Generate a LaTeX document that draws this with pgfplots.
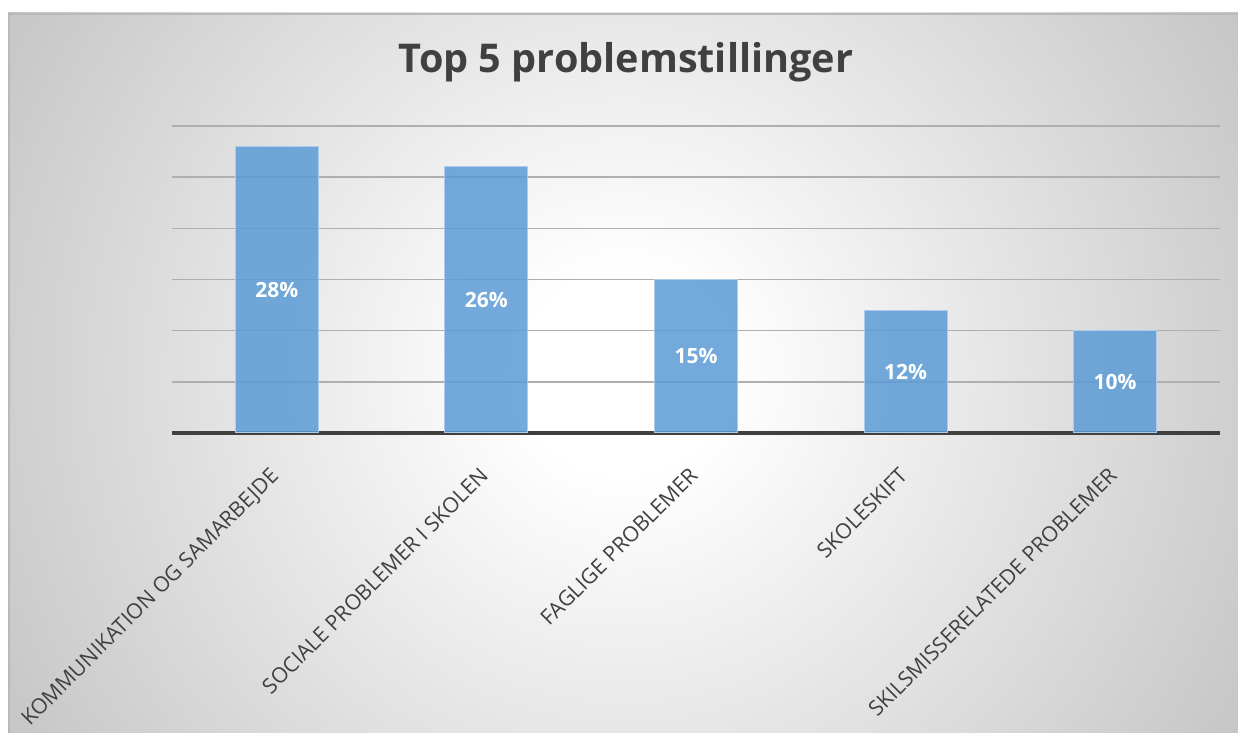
\documentclass[border=0pt]{standalone}
\usepackage{pgfplots}
\pgfplotsset{compat=1.18}
\usepackage{fontspec}
\setmainfont{Open Sans}
\definecolor{barblue}{RGB}{91,155,213}
\definecolor{txtgray}{RGB}{64,64,64}
\definecolor{gridgray}{RGB}{175,175,175}
\definecolor{edgegray}{RGB}{197,197,197}
\definecolor{bordergray}{RGB}{185,185,185}
\pgfdeclareradialshading{bgshade}{\pgfpointorigin}{color(0bp)=(white); color(50bp)=(white); color(360bp)=(edgegray)}
\begin{document}
\begin{tikzpicture}[x=1pt,y=1pt]
\useasboundingbox (0,0) rectangle (619,366.5);
\fill[white] (0,0) rectangle (619,366.5);
\begin{scope}
\clip (4,0) rectangle (619,360);
\node[inner sep=0pt] at (311.5,180) {\pgfuseshading{bgshade}};
\end{scope}
\draw[bordergray, line width=0.8pt] (4.4,0) -- (4.4,359.6) -- (619,359.6);
\node[font=\bfseries\fontsize{19.8}{22}\selectfont, text=txtgray, anchor=base] at (313,330) {Top 5 problemstillinger};
\begin{axis}[
  at={(86pt,150pt)}, anchor=south west,
  scale only axis, width=524pt, height=153.5pt,
  xmin=-0.5, xmax=4.5, ymin=0, ymax=30,
  ybar, bar width=0.396,
  axis x line*=bottom, axis y line*=left,
  y axis line style={draw=none},
  x axis line style={line width=1.6pt, color=txtgray},
  ytick={5,10,15,20,25,30}, yticklabels={},
  ymajorgrids, major grid style={gridgray, line width=0.8pt},
  tick style={draw=none},
  xtick={0,1,2,3,4},
  xticklabels={KOMMUNIKATION OG SAMARBEJDE, SOCIALE PROBLEMER I SKOLEN, FAGLIGE PROBLEMER, SKOLESKIFT, SKILSMISSERELATEDE PROBLEMER},
  xticklabel style={rotate=45, anchor=north east, inner sep=0pt, font=\fontsize{10.6}{12.5}\selectfont, text=txtgray, xshift=-11.3pt, yshift=-5.7pt},
  /pgf/number format/assume math mode=true,
  clip=false,
]
\addplot[fill=barblue, fill opacity=0.85, draw={rgb,255:red,170;green,205;blue,235}, line width=0.5pt,
  visualization depends on=rawy\as\rawy,
  nodes near coords={\pgfmathprintnumber[assume math mode=true]{\pgfplotspointmeta}\%},
  every node near coord/.append style={anchor=center, text=white, text opacity=1, font=\bfseries\fontsize{10.5}{12}\selectfont, shift={(axis direction cs:0,-\rawy/2)}},
] coordinates {(0,28) (1,26) (2,15) (3,12) (4,10)};
\end{axis}
\end{tikzpicture}
\end{document}
